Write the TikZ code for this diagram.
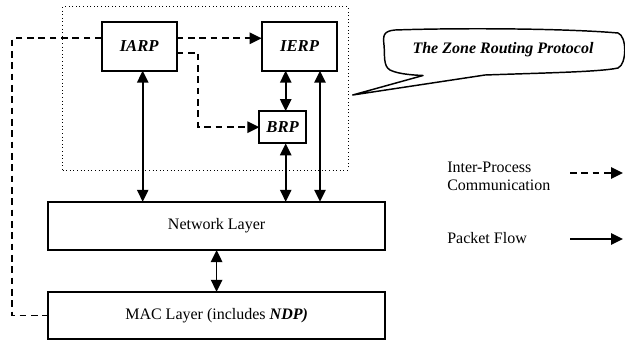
\documentclass[tikz,border=0pt]{standalone}
\usepackage{fontspec}
\setmainfont{Liberation Serif}
\usetikzlibrary{arrows.meta}
\begin{document}
\begin{tikzpicture}[x=0.75pt,y=-0.75pt,
  font=\fontsize{12}{13.5}\selectfont,
  box/.style={draw, line width=1.5pt, inner sep=0pt, outer sep=0pt, fill=white},
  proto/.style={box, font=\fontsize{12.5}{14}\selectfont\bfseries\itshape},
  tip/.style={-{Triangle[length=9pt,width=8.5pt]}},
  both/.style={{Triangle[length=9pt,width=8.5pt]}-{Triangle[length=9pt,width=8.5pt]}},
  pf/.style={both, line width=1.3pt},
  ipc/.style={tip, line width=1.3pt, dash pattern=on 5pt off 3.5pt},
]
\useasboundingbox (0,0) rectangle (625,340);

% zone routing protocol boundary
\node[draw, dotted, line width=0.7pt, inner sep=0pt, minimum width=214pt, minimum height=122.5pt] (zone) at (205.3,88.3) {};

% protocol components
\node[proto, minimum width=56.25pt, minimum height=36.75pt] (IARP) at (139.2,46.2) {IARP};
\node[proto, minimum width=56.7pt, minimum height=36.75pt] (IERP) at (299.5,46.2) {IERP};
\node[proto, minimum width=35pt, minimum height=24.2pt] (BRP) at (282.7,127.2) {BRP};

% layers
\node[box, minimum width=252.5pt, minimum height=36.2pt] (NET) at (216.6,225.9) {Network Layer};
\node[box, minimum width=252.5pt, minimum height=35.5pt] (MAC) at (216.6,315.5) {MAC Layer (includes \textbf{\textit{NDP)}}};

% helper coordinates
\coordinate (a1) at (0,38.3);
\coordinate (b1) at (198.3,52.7);
\coordinate (c1) at (12.3,0);
\coordinate (x1) at (142.7,0);
\coordinate (x2) at (285.7,0);
\coordinate (x3) at (320,0);

% inter-process communication
\draw[ipc] (IARP.east |- a1) -- (IERP.west |- a1);
\draw[ipc] (IARP.east |- b1) -- (b1) |- (BRP.west);
\draw[ipc, -] (IARP.west |- a1) -| (c1 |- MAC.west) -- (MAC.west);

% packet flow
\draw[pf] (x1 |- IARP.south) -- (x1 |- NET.north);
\draw[pf] (x2 |- IERP.south) -- (x2 |- BRP.north);
\draw[pf] (x2 |- BRP.south) -- (x2 |- NET.north);
\draw[pf] (x3 |- IERP.south) -- (x3 |- NET.north);
\draw[pf] (NET.south) -- (MAC.north);

% callout
\draw[line width=1.1pt, fill=white, line join=round]
  (423,75.5) -- (352.7,95) -- (485,75)
  .. controls (540,73) and (600,72) .. (618,68)
  .. controls (627,64) and (627,36) .. (618,33)
  .. controls (560,28) and (450,28) .. (395,30)
  .. controls (383,31) and (383,36) .. (384,45)
  .. controls (385,55) and (383,66) .. (390,70)
  .. controls (398,74) and (412,75) .. (423,75.5) -- cycle;
\node[font=\fontsize{12}{14}\selectfont\bfseries\itshape] (zrp) at (503,50) {The Zone Routing Protocol};

% legend
\node[anchor=west, align=left, inner sep=0pt] (lipc) at (447,176) {Inter-Process\\Communication};
\node[anchor=west, inner sep=0pt] (lpf) at (447,238) {Packet Flow};
\coordinate (l1s) at (570,173);
\coordinate (l1e) at (623,173);
\coordinate (l2s) at (570,239);
\coordinate (l2e) at (623,239);
\draw[ipc] (l1s) -- (l1e);
\draw[tip, line width=1.3pt] (l2s) -- (l2e);
\end{tikzpicture}
\end{document}
